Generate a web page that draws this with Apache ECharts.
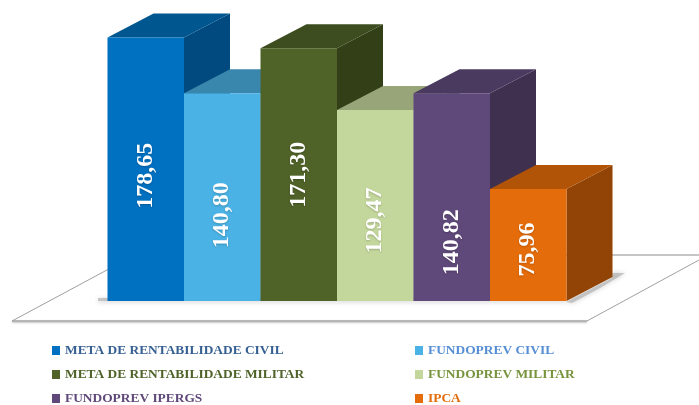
<!DOCTYPE html>
<html><head><meta charset="utf-8">
<style>html,body{margin:0;padding:0;background:#fff}#c{width:699px;height:405px}</style>
<script src="https://cdn.jsdelivr.net/npm/echarts@6/dist/echarts.min.js"></script>
</head><body><div id="c"></div>
<script>
const categories = ["META DE RENTABILIDADE CIVIL","FUNDOPREV CIVIL","META DE RENTABILIDADE MILITAR","FUNDOPREV MILITAR","FUNDOPREV IPERGS","IPCA"];
const values = [178.65,140.80,171.30,129.47,140.82,75.96];
const frontColors = ["#0070C0","#4AB2E4","#4F6228","#C3D69B","#5F497A","#E46C0A"];
const topColors = ["#00568F","#3A87AE","#3E4D1F","#97A578","#4A3A60","#B25408"];
const sideColors = ["#004A7F","#2F6F90","#323F17","#7D8A62","#3F3050","#914405"];
const legendColors = ["#376092","#558ED5","#4F6228","#77933C","#5F497A","#E46C0A"];
const labelShift = [6.5,18,0,15,45,4.5];
const DX = 46, DY = -24;
const chart = echarts.init(document.getElementById('c'));
const fmt = v => v.toFixed(2).replace('.', ',');
function renderBar(i){
  return function(params, api){
    const base = api.coord([api.value(0), 0]);
    const top = api.coord([api.value(0), api.value(1)]);
    const w = api.size([1,0])[0];
    const l = base[0]-w/2, r = base[0]+w/2, b = base[1], t = top[1];
    return {type:'group', children:[
      {type:'polygon', shape:{points:[[r,b],[r+DX,b+DY],[r+DX,t+DY],[r,t]]}, style:{fill:sideColors[i]}},
      {type:'polygon', shape:{points:[[l,t],[l+DX,t+DY],[r+DX,t+DY],[r,t]]}, style:{fill:topColors[i]}},
      {type:'rect', shape:{x:l,y:t,width:w,height:b-t}, style:{fill:frontColors[i]}},
      {type:'text', x:base[0], y:(t+b)/2+labelShift[i], rotation:Math.PI/2,
       style:{text:fmt(api.value(1)), fill:'#fff', font:'bold 24px "Liberation Serif"', align:'center', verticalAlign:'middle',
              textShadowColor:'rgba(0,0,0,0.2)', textShadowBlur:2, textShadowOffsetX:0, textShadowOffsetY:1}}
    ]};
  };
}
const series = categories.map((name,i)=>({
  name, type:'custom', renderItem:renderBar(i), itemStyle:{color:frontColors[i]},
  data:[[i, values[i]]], encode:{x:0,y:1}, clip:false, z:3
}));
const legendBase = {orient:'vertical', itemWidth:8, itemHeight:9, itemGap:11, icon:'rect', itemStyle:{borderWidth:0}, padding:0,
  textStyle:{fontFamily:'"Liberation Serif"', fontWeight:'bold', fontSize:13.4}};
const legendData = idx => idx.map(i=>({name:categories[i], textStyle:{color:legendColors[i]}}));
const floorStroke = {stroke:'#A0A0A0', lineWidth:1};
chart.setOption({
  animation:false, backgroundColor:'#fff',
  grid:{left:107.5, width:459, top:6, height:295, containLabel:false},
  xAxis:{type:'category', data:categories, show:false},
  yAxis:{type:'value', min:0, max:200, show:false},
  legend:[
    Object.assign({}, legendBase, {left:52, top:344, data:legendData([0,2,4])}),
    Object.assign({}, legendBase, {left:415, top:344, data:legendData([1,3,5])})
  ],
  graphic:{elements:[
    {type:'line', z:0, shape:{x1:500,y1:255,x2:699,y2:255}, style:{stroke:'#8C8C8C', lineWidth:1}},
    {type:'line', z:0, shape:{x1:12,y1:321,x2:120,y2:263}, style:floorStroke},
    {type:'line', z:0, shape:{x1:587,y1:321,x2:699,y2:260}, style:floorStroke},
    {type:'line', z:0, shape:{x1:12,y1:321,x2:587,y2:321}, style:{stroke:'#A6A6A6', lineWidth:1.5, shadowColor:'rgba(0,0,0,0.3)', shadowBlur:2, shadowOffsetY:1}},
    {type:'rect', z:1, shape:{x:98,y:298,width:468,height:3}, style:{fill:'rgba(170,170,170,0.6)', shadowColor:'rgba(0,0,0,0.35)', shadowBlur:5, shadowOffsetY:1}},
    {type:'polygon', z:1, shape:{points:[[566,302],[612,278],[612,273],[625,273],[600,288],[572,303]]}, style:{fill:'rgba(170,170,170,0.6)', shadowColor:'rgba(0,0,0,0.35)', shadowBlur:5}}
  ]},
  series
});
</script></body></html>
